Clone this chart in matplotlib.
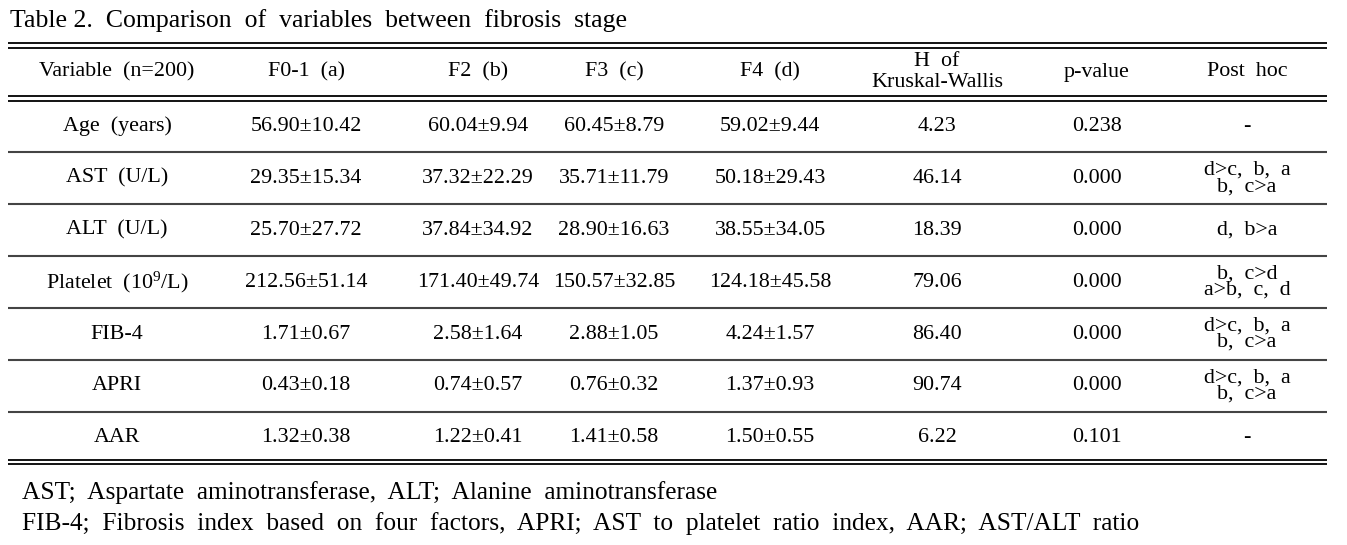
import matplotlib
matplotlib.use('Agg')
import matplotlib.pyplot as plt

plt.rcParams['font.family'] = ['Liberation Serif', 'DejaVu Serif']
plt.rcParams['mathtext.fontset'] = 'custom'
plt.rcParams['mathtext.rm'] = 'Liberation Serif'
plt.rcParams['mathtext.default'] = 'regular'

title = 'Table 2.  Comparison  of  variables  between  fibrosis  stage'
headers = ['Variable  (n=200)', 'F0-1  (a)', 'F2  (b)', 'F3  (c)', 'F4  (d)',
           'H  of\nKruskal-Wallis', 'p-value', 'Post  hoc']

variables = ['Age  (years)', 'AST  (U/L)', 'ALT  (U/L)', 'Platelet  (10$^{9}$/L)',
             'FIB-4', 'APRI', 'AAR']
f01 = ['56.90±10.42', '29.35±15.34', '25.70±27.72', '212.56±51.14', '1.71±0.67', '0.43±0.18', '1.32±0.38']
f2 = ['60.04±9.94', '37.32±22.29', '37.84±34.92', '171.40±49.74', '2.58±1.64', '0.74±0.57', '1.22±0.41']
f3 = ['60.45±8.79', '35.71±11.79', '28.90±16.63', '150.57±32.85', '2.88±1.05', '0.76±0.32', '1.41±0.58']
f4 = ['59.02±9.44', '50.18±29.43', '38.55±34.05', '124.18±45.58', '4.24±1.57', '1.37±0.93', '1.50±0.55']
h_kw = ['4.23', '46.14', '18.39', '79.06', '86.40', '90.74', '6.22']
p_val = ['0.238', '0.000', '0.000', '0.000', '0.000', '0.000', '0.101']
post_hoc = ['-', 'd>c,  b,  a\nb,  c>a', 'd,  b>a', 'b,  c>d\na>b,  c,  d',
            'd>c,  b,  a\nb,  c>a', 'd>c,  b,  a\nb,  c>a', '-']

notes = ['AST;  Aspartate  aminotransferase,  ALT;  Alanine  aminotransferase',
         'FIB-4;  Fibrosis  index  based  on  four  factors,  APRI;  AST  to  platelet  ratio  index,  AAR;  AST/ALT  ratio']

W, H = 1347, 545
fig = plt.figure(figsize=(W / 100, H / 100), dpi=100)
ax = fig.add_axes([0, 0, 1, 1])
ax.set_xlim(0, W)
ax.set_ylim(H, 0)
ax.axis('off')

col_x = [117, 306, 478, 614, 770, 937, 1097, 1247]
x0, x1 = 8, 1327
fs = 15.8

# title
ax.text(10, 21, title, fontsize=18.5, va='center', ha='left')

# double rules
for y in [43, 47.5, 96, 100.5, 459.5, 464]:
    ax.plot([x0, x1], [y, y], color='black', lw=1.3, solid_capstyle='butt')

# header
for x, h in zip(col_x, headers):
    ax.text(x, 72, h, fontsize=fs, ha='center', va='center', linespacing=1.15)

# rows
row_h = 51.9
rows = list(zip(variables, f01, f2, f3, f4, h_kw, p_val, post_hoc))
for i, row in enumerate(rows):
    yc = 100.5 + row_h * (i + 0.5)
    for x, val in zip(col_x, row):
        ax.text(x, yc, val, fontsize=fs, ha='center', va='center', linespacing=0.82)
    if i < len(rows) - 1:
        ys = 100.5 + row_h * (i + 1)
        ax.plot([x0, x1], [ys, ys], color='#444444', lw=1.5, solid_capstyle='butt')

# footnotes
ax.text(22, 493, notes[0], fontsize=18.3, ha='left', va='center')
ax.text(22, 524, notes[1], fontsize=18.3, ha='left', va='center')

fig.savefig('out.png', dpi=100, facecolor='white')
